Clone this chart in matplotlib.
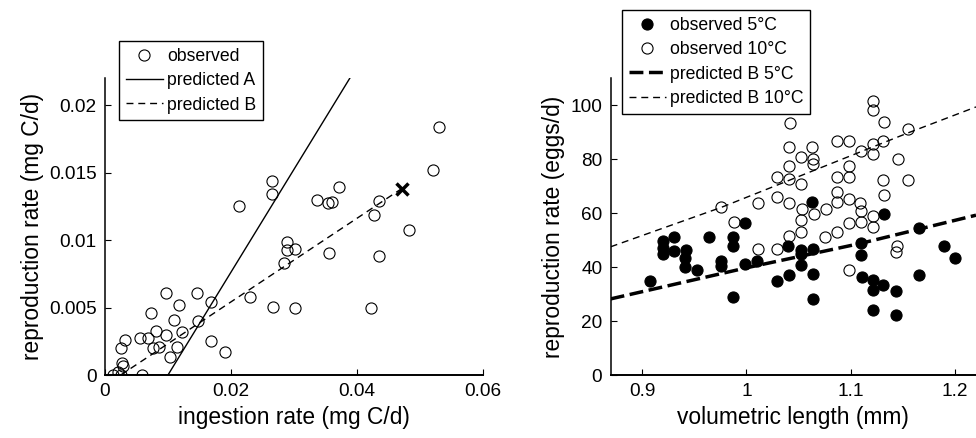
import matplotlib
matplotlib.use("Agg")
import matplotlib.pyplot as plt
from matplotlib.lines import Line2D

plt.rcParams['font.family'] = ['Liberation Sans', 'DejaVu Sans']

# left panel: observed reproduction vs ingestion
obs_x = [0.0265, 0.0265, 0.0213, 0.0336, 0.0354, 0.0361, 0.0372, 0.0435, 0.0427, 0.0483,
         0.0530, 0.0521, 0.0289, 0.0289, 0.0301, 0.0285, 0.0356, 0.0435, 0.0267, 0.0302,
         0.0422, 0.0231, 0.0169, 0.0146, 0.0097, 0.0118, 0.0073, 0.0148, 0.0109, 0.0081,
         0.0122, 0.0097, 0.0055, 0.0068, 0.0031, 0.0025, 0.0077, 0.0085, 0.0114, 0.0169,
         0.0190, 0.0104, 0.0027, 0.0028, 0.0013, 0.0026, 0.0059, 0.0020]
obs_y = [0.01436, 0.01343, 0.0125, 0.0130, 0.01277, 0.0128, 0.0139, 0.01287, 0.01189, 0.01078,
         0.01838, 0.0152, 0.00983, 0.00926, 0.00936, 0.00828, 0.00904, 0.00882, 0.00505, 0.00495,
         0.00495, 0.00581, 0.00539, 0.00608, 0.00605, 0.00515, 0.00458, 0.00402, 0.00404, 0.00326,
         0.00316, 0.00294, 0.00272, 0.00272, 0.00257, 0.00203, 0.00203, 0.00208, 0.00211, 0.00255,
         0.00171, 0.00135, 0.00088, 0.00068, 0.0, 0.0, 0.0, 0.0002]

pred_a_x = [0.0, 0.0100, 0.0389]
pred_a_y = [0.0, 0.0, 0.0220]
pred_b_x = [0.0025, 0.0471]
pred_b_y = [0.0, 0.0138]
cross_x = [0.0471]
cross_y = [0.0138]

# right panel: reproduction vs length at two temperatures
len_5 = [0.908, 0.920, 0.920, 0.920, 0.931, 0.931, 0.9425, 0.9415, 0.9415, 0.953,
         0.964, 0.976, 0.976, 0.987, 0.987, 0.987, 0.999, 0.999, 1.010, 1.029,
         1.040, 1.041, 1.052, 1.052, 1.052, 1.063, 1.064, 1.064, 1.064, 1.110,
         1.110, 1.111, 1.121, 1.121, 1.121, 1.131, 1.132, 1.143, 1.143, 1.165,
         1.165, 1.189, 1.200]
eggs_5 = [34.7, 49.6, 46.9, 44.8, 51.2, 45.9, 46.3, 43.2, 39.9, 38.9,
          51.2, 42.2, 40.4, 51.2, 47.8, 28.8, 56.4, 41.2, 42.2, 34.8,
          47.9, 36.9, 46.3, 44.8, 40.7, 64.0, 46.8, 37.4, 28.3, 49.0,
          44.4, 36.2, 35.2, 31.5, 24.1, 33.3, 59.7, 31.1, 22.2, 54.6,
          36.9, 47.8, 43.4]

len_10 = [0.976, 0.988, 1.011, 1.011, 1.029, 1.029, 1.041, 1.041, 1.052, 1.052,
          1.053, 1.0645, 1.076, 1.075, 1.087, 1.087, 1.087, 1.098, 1.098, 1.098,
          1.109, 1.110, 1.110, 1.121, 1.121, 1.132, 1.144, 1.143,
          1.042, 1.041, 1.041, 1.041, 1.029, 1.052, 1.052, 1.063, 1.064, 1.064,
          1.087, 1.098, 1.098, 1.087, 1.098, 1.110, 1.121, 1.121, 1.121, 1.121,
          1.132, 1.131, 1.145, 1.155, 1.131, 1.155]
eggs_10 = [62.4, 56.5, 63.6, 46.8, 66.0, 46.8, 63.6, 51.5, 57.3, 52.8,
           61.6, 59.7, 61.4, 51.0, 67.7, 64.0, 53.0, 65.1, 56.2, 38.9,
           63.6, 60.6, 56.8, 59.0, 54.7, 66.7, 47.8, 45.4,
           93.2, 84.3, 77.5, 72.6, 73.2, 80.6, 70.7, 84.3, 80.2, 78.1,
           86.8, 86.8, 77.5, 73.2, 73.2, 83.0, 101.6, 98.1, 85.6, 81.9,
           93.7, 86.8, 80.2, 91.0, 72.2, 72.2]

pred5_x = [0.87, 1.0, 1.11, 1.22]
pred5_y = [28.2, 39.7, 48.8, 59.2]
pred10_x = [0.87, 0.976, 1.155, 1.22]
pred10_y = [47.5, 62.1, 89.7, 99.3]

fig = plt.figure(figsize=(9.76, 4.38), dpi=100)
ax1 = fig.add_axes([0.1076, 0.1438, 0.387, 0.678])
ax2 = fig.add_axes([0.6257, 0.1438, 0.3743, 0.678])

tick_fs = 13.7
label_fs = 16.4
leg_fs = 12.7

# left
ax1.plot(obs_x, obs_y, 'o', mfc='none', mec='black', ms=8, mew=0.8, label='observed')
ax1.plot(pred_a_x, pred_a_y, '-', color='black', lw=1.0, label='predicted A')
ax1.plot(pred_b_x, pred_b_y, color='black', lw=1.0, dashes=(5, 3.5), label='predicted B')
ax1.plot(cross_x, cross_y, 'x', color='black', ms=9, mew=2.5)
ax1.set_xlim(0, 0.06)
ax1.set_ylim(0, 0.022)
ax1.set_xticks([0, 0.02, 0.04, 0.06])
ax1.set_xticklabels(['0', '0.02', '0.04', '0.06'])
ax1.set_yticks([0, 0.005, 0.01, 0.015, 0.02])
ax1.set_yticklabels(['0', '0.005', '0.01', '0.015', '0.02'])
ax1.set_xlabel('ingestion rate (mg C/d)', fontsize=label_fs)
ax1.set_ylabel('reproduction rate (mg C/d)', fontsize=label_fs)

# right
ax2.plot(pred5_x, pred5_y, color='black', lw=2.5, dashes=(4, 1.6))
ax2.plot(pred10_x, pred10_y, color='black', lw=1.0, dashes=(5, 3.5))
ax2.plot(len_10, eggs_10, 'o', mfc='none', mec='black', ms=8, mew=0.8)
ax2.plot(len_5, eggs_5, 'o', mfc='black', mec='black', ms=8, mew=0.8)
ax2.set_xlim(0.87, 1.22)
ax2.set_ylim(0, 110)
ax2.set_xticks([0.9, 1.0, 1.1, 1.2])
ax2.set_xticklabels(['0.9', '1', '1.1', '1.2'])
ax2.set_yticks([0, 20, 40, 60, 80, 100])
ax2.set_xlabel('volumetric length (mm)', fontsize=label_fs)
ax2.set_ylabel('reproduction rate (eggs/d)', fontsize=label_fs)

h2 = [Line2D([], [], ls='none', marker='o', mfc='black', mec='black', ms=8, mew=0.8),
      Line2D([], [], ls='none', marker='o', mfc='none', mec='black', ms=8, mew=0.8),
      Line2D([], [], color='black', lw=2.5, dashes=(4, 1.6)),
      Line2D([], [], color='black', lw=1.0, dashes=(5, 3.5))]
l2 = ['observed 5°C', 'observed 10°C', 'predicted B 5°C', 'predicted B 10°C']

for ax in (ax1, ax2):
    ax.spines['top'].set_visible(False)
    ax.spines['right'].set_visible(False)
    ax.spines['left'].set_linewidth(1.1)
    ax.spines['bottom'].set_linewidth(1.4)
    ax.tick_params(direction='in', length=4, width=0.8, labelsize=tick_fs, pad=6)

leg_kw = dict(fontsize=leg_fs, numpoints=1, fancybox=False, framealpha=1,
              edgecolor='black', borderpad=0.38, labelspacing=0.42,
              handlelength=2.1, handletextpad=0.25, borderaxespad=0)
leg1 = ax1.legend(loc='upper left', bbox_to_anchor=(0.1219, 0.9064),
                  bbox_transform=fig.transFigure, **leg_kw)
leg2 = ax2.legend(h2, l2, loc='upper left', bbox_to_anchor=(0.6373, 0.9772),
                  bbox_transform=fig.transFigure, **leg_kw)
for leg in (leg1, leg2):
    leg.get_frame().set_linewidth(1.0)
    leg.set_clip_on(False)

fig.savefig('out.png', dpi=100)
